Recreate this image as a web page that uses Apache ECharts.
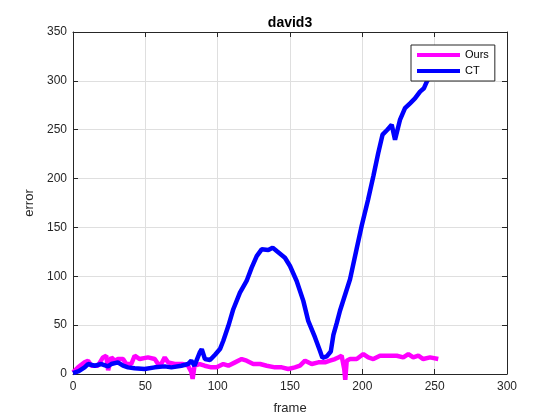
<!DOCTYPE html>
<html><head><meta charset="utf-8">
<script src="https://cdn.jsdelivr.net/npm/echarts@6/dist/echarts.min.js"></script>
<style>html,body{margin:0;padding:0;background:#fff}#c{width:560px;height:420px}</style>
</head><body><div id="c"></div>
<script>
const xTicks = [0, 50, 100, 150, 200, 250, 300];
const yTicks = [0, 50, 100, 150, 200, 250, 300, 350];

const oursFrames = [0,3.5,8,10.4,12.7,17.3,20.7,23,24.3,26.5,28.8,31.1,34.6,36.8,40.3,42.6,46.1,51.8,56.5,58.8,61,63.4,65.7,70.3,76,79.5,81.8,82.7,84,87.6,91,95.6,99.3,103.9,107.4,112,116.6,120,124.6,129.3,133.9,139.6,144.3,148.8,153.4,156.9,160.4,165,169.6,174.2,177.6,181.1,183.4,185.7,187.5,188.2,189.2,191.5,196.1,200.7,204.1,207.6,212.2,219.1,223.8,228.3,231.8,235.2,238.7,242.1,246.8,252.5];
const oursErrors = [1.7,6.8,11.9,13.6,8.5,8.5,17,18.7,4,17,13.6,15.3,15.3,10.2,10.2,18.7,15.3,17,15.3,10.2,10.2,17,11.9,10.2,10.2,8.5,2,-5,8.5,10.2,8.5,6.8,6.8,10.2,8.5,11.9,15.3,13.6,10.2,10.2,8.5,6.8,6.8,5.1,6.8,8.5,13.6,10.2,11.9,11.9,13.6,15.3,17,18.7,5,-6,13.6,15.3,15.3,20.4,17,15.3,18.7,18.7,18.7,17,20.4,17,18.7,15.3,17,15.3];

const ctFrames = [0,4,8,10.4,15,19.6,24.2,26.5,31,34.6,38,42.6,49.5,56.5,63.4,68,74.9,79.5,81.8,84,87.6,89,91.2,94.7,98.2,101.6,103.9,107.4,110.8,115.4,120,123.5,127,130.4,135,138,140.8,146.5,150,154.6,159.2,162.6,167.3,170.7,172.4,175.4,178.2,180,182.3,184.6,191.5,196,199.6,204,207.6,211,214,217.3,220.3,222.6,226,229.5,233,236.4,239.9,242.6,244.5,248,252];
const ctErrors = [1,3,6.8,10.2,8.5,10.2,7.8,10.2,11.9,8.5,6.8,5.8,5.1,6.8,7.8,6.8,8.5,10.2,13.6,8.5,22,25.5,15.3,14.3,19.7,25.5,34,49.3,66.3,83.3,95.2,108.9,120.7,127.6,126.9,129.3,125.8,119,110.5,95.2,74.8,54.4,37.4,23.8,16.5,18,23,40,52,65,97,127.6,152,178.6,202.4,226.2,245,250,255,239.8,260,272,277,282,289,292.5,299,308,318];

const zip = (xs, ys) => xs.map((x, i) => [x, ys[i]]);
const FONT = 'Liberation Sans';
const AX = '#262626';
const TICK = {show: true, inside: true, length: 5, lineStyle: {color: AX, width: 1}};

const chart = echarts.init(document.getElementById('c'), null, {renderer: 'canvas'});
chart.setOption({
  animation: false,
  backgroundColor: '#fff',
  title: {text: 'david3', left: 285, textAlign: 'center', top: 11,
    textStyle: {fontFamily: FONT, fontSize: 14, fontWeight: 'bold', color: '#000'}},
  grid: {left: 73, top: 32, width: 434, height: 343, containLabel: false},
  legend: {
    orient: 'vertical', left: 411, top: 45,
    data: ['Ours', 'CT'],
    backgroundColor: '#fff', borderColor: '#262626', borderWidth: 1, borderRadius: 0,
    padding: [3, 6, 3, 6], itemGap: 2, itemWidth: 43, itemHeight: 4, itemTextGap: 3,
    icon: 'rect',
    textStyle: {fontFamily: FONT, fontSize: 11, color: '#000', lineHeight: 14}
  },
  xAxis: [
    {type: 'value', min: 0, max: 300, interval: 50, position: 'bottom',
      name: 'frame', nameLocation: 'middle', nameGap: 28,
      nameTextStyle: {fontFamily: FONT, fontSize: 13, color: AX},
      axisLine: {show: true, onZero: false, lineStyle: {color: AX, width: 1}},
      axisTick: TICK,
      axisLabel: {fontFamily: FONT, fontSize: 12, color: AX, margin: 7,
        formatter: v => xTicks.includes(v) ? String(v) : ''},
      splitLine: {show: true, lineStyle: {color: '#dfdfdf', width: 1}}
    },
    {type: 'value', min: 0, max: 300, interval: 50, position: 'top',
      axisLine: {show: true, onZero: false, lineStyle: {color: AX, width: 1}},
      axisTick: TICK,
      axisLabel: {show: false}, splitLine: {show: false}
    }
  ],
  yAxis: [
    {type: 'value', min: 0, max: 350, interval: 50, position: 'left',
      name: 'error', nameLocation: 'middle', nameGap: 31, nameRotate: 90,
      nameTextStyle: {fontFamily: FONT, fontSize: 13, color: AX},
      axisLine: {show: true, onZero: false, lineStyle: {color: AX, width: 1}},
      axisTick: TICK,
      axisLabel: {fontFamily: FONT, fontSize: 12, color: AX, margin: 6,
        formatter: v => yTicks.includes(v) ? String(v) : ''},
      splitLine: {show: true, lineStyle: {color: '#dfdfdf', width: 1}}
    },
    {type: 'value', min: 0, max: 350, interval: 50, position: 'right',
      axisLine: {show: true, onZero: false, lineStyle: {color: AX, width: 1}},
      axisTick: TICK,
      axisLabel: {show: false}, splitLine: {show: false}
    }
  ],
  series: [
    {name: 'Ours', type: 'line', data: zip(oursFrames, oursErrors), showSymbol: false,
      color: '#ff00ff', lineStyle: {width: 4.5, color: '#ff00ff'}, clip: false, z: 2},
    {name: 'CT', type: 'line', data: zip(ctFrames, ctErrors), showSymbol: false,
      color: '#0000ff', lineStyle: {width: 4.5, color: '#0000ff'}, clip: true, z: 3}
  ]
});
</script></body></html>
